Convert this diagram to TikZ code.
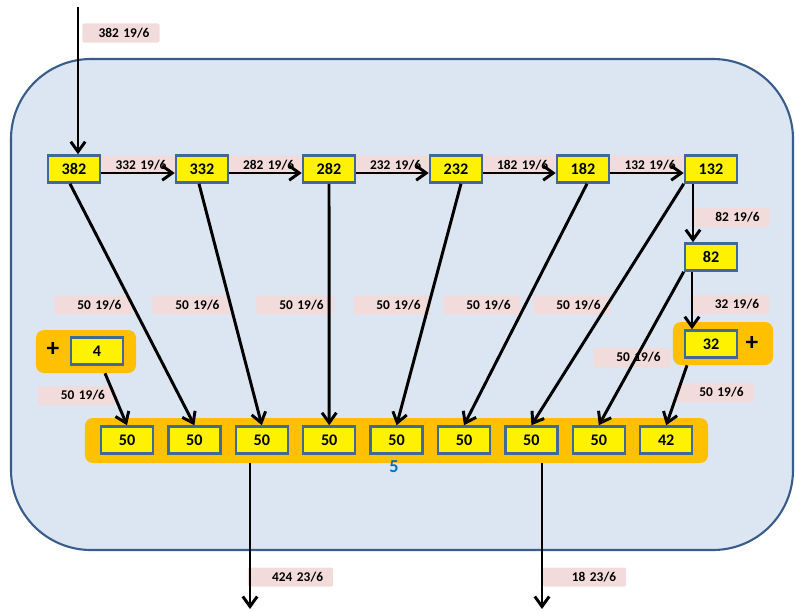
\documentclass[tikz,border=0pt]{standalone}
\usepackage{fontspec}
\setmainfont{Carlito}
\usetikzlibrary{arrows.meta, positioning, calc}
\definecolor{cellFill}{RGB}{220,230,242}
\definecolor{cellBorder}{RGB}{56,93,138}
\definecolor{boxBorder}{RGB}{65,105,150}
\definecolor{groupFill}{RGB}{255,192,0}
\definecolor{labelFill}{RGB}{242,220,219}
\definecolor{countBlue}{RGB}{0,112,192}
\tikzset{
    cellLine/.style={draw=cellBorder, fill=cellFill, line width=1.5pt, rounded corners=2cm},
    valBox/.style={rectangle, draw=boxBorder, fill=yellow, line width=1.8pt, minimum width=1.3cm, minimum height=0.675cm, inner sep=0pt, font=\fontsize{11.5}{12}\selectfont\bfseries},
    groupBox/.style={rectangle, fill=groupFill, rounded corners=0.2cm, inner sep=0pt},
    flowLabel/.style={rectangle, fill=labelFill, rounded corners=1pt, text width=1.425cm, align=right, inner xsep=0.25cm, inner ysep=0pt, minimum height=0.475cm, font=\fontsize{9.5}{10}\selectfont\bfseries},
    plusSign/.style={inner sep=0pt, font=\fontsize{18}{18}\selectfont\bfseries},
    flowLine/.style={->, line width=2.1pt}
}

\begin{document}
\begin{tikzpicture}[x=0.025cm, y=-0.025cm, >={Straight Barb[length=2.5mm, width=3.6mm]}]

    \useasboundingbox (0,0) rectangle (795,612);

    % --- Cell ---
    \draw[cellLine] (11,59) rectangle (793,550);

    % --- Groups ---
    \node[groupBox, minimum width=2.5cm, minimum height=1.075cm] (g4) at (86,351.5) {};
    \node[groupBox, minimum width=2.5cm, minimum height=1.075cm] (g32) at (723,343.5) {};
    \node[groupBox, minimum width=15.575cm, minimum height=1.125cm] (gBot) at (396.5,440.5) {};

    % --- Flow labels ---
    \node[flowLabel] (lIn) at (121,33) {382 19/6};
    \node[flowLabel] (l332) at (138,165) {332 19/6};
    \node[flowLabel] (l282) at (265.5,165) {282 19/6};
    \node[flowLabel] (l232) at (392.5,165) {232 19/6};
    \node[flowLabel] (l182) at (519.5,165) {182 19/6};
    \node[flowLabel] (l132) at (647,165) {132 19/6};
    \node[flowLabel] (l82) at (731,217.5) {82 19/6};
    \node[flowLabel] (l32) at (730.5,304.5) {32 19/6};
    \node[flowLabel] (lA) at (93,305) {50 19/6};
    \node[flowLabel] (lB) at (191,305) {50 19/6};
    \node[flowLabel] (lC) at (295,305) {50 19/6};
    \node[flowLabel] (lD) at (392,305) {50 19/6};
    \node[flowLabel] (lE) at (482,305) {50 19/6};
    \node[flowLabel] (lF) at (572,305) {50 19/6};
    \node[flowLabel] (lG) at (632,357.5) {50 19/6};
    \node[flowLabel] (l4) at (76.5,395.5) {50 19/6};
    \node[flowLabel] (lH) at (715,392.5) {50 19/6};
    \node[flowLabel, text width=1.625cm] (lOut1) at (290.5,577) {424 23/6};
    \node[flowLabel, text width=1.575cm] (lOut2) at (584.5,577) {18 23/6};

    % --- Value boxes ---
    \node[valBox] (n382) at (74,169) {382};
    \node[valBox] (n332) at (202,169) {332};
    \node[valBox] (n282) at (329,169) {282};
    \node[valBox] (n232) at (456,169) {232};
    \node[valBox] (n182) at (583,169) {182};
    \node[valBox] (n132) at (711,169) {132};
    \node[valBox] (n82) at (711,257) {82};
    \node[valBox] (n32) at (711,344) {32};
    \node[valBox] (n4) at (97,351) {4};
    \foreach \v [count=\i] in {50,50,50,50,50,50,50,50,42} {
        \node[valBox] (b\i) at ({127+67.4*(\i-1)},440) {\v};
    }

    \node[plusSign] (p4) at (53,349) {+};
    \node[plusSign] (p32) at (752,343) {+};
    \node[inner sep=0pt, text=countBlue, font=\fontsize{13}{13}\selectfont\bfseries] (count) at (394,467) {5};

    % --- Input and top row ---
    \coordinate (inTop) at (78,7);
    \draw[flowLine] (inTop) -- (inTop |- n382.north);
    \draw[flowLine] ([yshift=-0.1cm]n382.east) -- ([yshift=-0.1cm]n332.west);
    \draw[flowLine] ([yshift=-0.1cm]n332.east) -- ([yshift=-0.1cm]n282.west);
    \draw[flowLine] ([yshift=-0.1cm]n282.east) -- ([yshift=-0.1cm]n232.west);
    \draw[flowLine] ([yshift=-0.1cm]n232.east) -- ([yshift=-0.1cm]n182.west);
    \draw[flowLine] ([yshift=-0.1cm]n182.east) -- ([yshift=-0.1cm]n132.west);
    \draw[flowLine] ([xshift=-0.45cm]n132.south) -- ([xshift=-0.45cm]n82.north);
    \draw[flowLine] ([xshift=-0.475cm]n82.south) -- ([xshift=-0.475cm]n32.north);

    % --- Into the bottom row ---
    \draw[flowLine] ([xshift=0.475cm]g4.south) -- (b1.north);
    \draw[flowLine] ([xshift=-0.1cm]n382.south) -- (b2.north);
    \draw[flowLine] ([xshift=-0.075cm]n332.south) -- (b3.north);
    \draw[flowLine] (n282.south) -- (b4.north);
    \draw[flowLine] ([xshift=0.125cm]n232.south) -- (b5.north);
    \draw[flowLine] ([xshift=0.1cm]n182.south) -- (b6.north);
    \draw[flowLine] (n132.south west) -- (b7.north);
    \draw[flowLine] (n82.south west) -- (b8.north);
    \draw[flowLine] ([xshift=-0.9cm]g32.south) -- (b9.north);

    % --- Outputs ---
    \coordinate (out1) at (250,609);
    \coordinate (out2) at (542,609);
    \draw[flowLine] (out1 |- gBot.south) -- (out1);
    \draw[flowLine] (out2 |- gBot.south) -- (out2);

\end{tikzpicture}
\end{document}
